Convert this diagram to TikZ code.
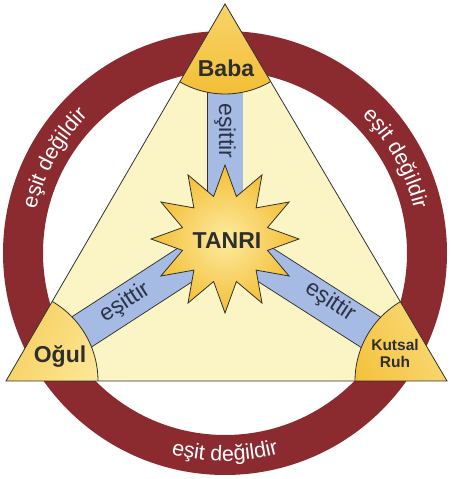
\documentclass[tikz,border=0pt]{standalone}
\usepackage{fontspec}
\setmainfont{Liberation Sans}
\usetikzlibrary{calc,decorations.text}
\definecolor{ringred}{HTML}{8C2B2F}
\definecolor{cream}{HTML}{FBF5C6}
\definecolor{barblue}{HTML}{A6BBE4}
\definecolor{outline}{HTML}{303030}
\definecolor{golddark}{HTML}{F3BE35}
\definecolor{goldlight}{HTML}{FDEBA0}
\definecolor{labelgray}{HTML}{2E2E2E}
\definecolor{eqtext}{HTML}{2D3347}
\tikzset{
  edge/.style={draw=outline, line width=0.8pt},
  bar/.style={draw=outline, line width=0.9pt, double=barblue, double distance=35pt},
  lab/.style={text=labelgray, font=\bfseries\fontsize{23}{25}\selectfont, inner sep=0pt},
  smalllab/.style={text=labelgray, font=\bfseries\fontsize{15.5}{17}\selectfont, inner sep=0pt, align=center},
  eq/.style={text=eqtext, font=\fontsize{23}{25}\selectfont, inner sep=0pt},
  ringtext/.style={decorate, decoration={text along path, text align=center,
     text format delimiters={|}{|},
     text={|\color{white}\fontsize{21.5}{24}\selectfont|eşit değildir}}}
}
\begin{document}
\begin{tikzpicture}[x=1pt,y=1pt]
\useasboundingbox (0,0) rectangle (450,479);
\coordinate (C) at (225,226);
\coordinate (A) at (225,475);
\coordinate (L) at (6,98);
\coordinate (R) at (447,98);
\coordinate (S) at (225,240);
% ring
\fill[ringred, even odd rule] (C) circle (222) (C) circle (182);
% triangle
\fill[cream] (A) -- (L) -- (R) -- cycle;
\begin{scope}
  \clip (A) -- (L) -- (R) -- cycle;
  \draw[bar] (S) -- (A);
  \draw[bar] (S) -- (L);
  \draw[bar] (S) -- (R);
  \shade[top color=goldlight, bottom color=golddark] (A) circle (90);
  \draw[edge] (A) circle (90);
  \shade[left color=golddark, right color=goldlight, shading angle=60] (L) circle (92);
  \draw[edge] (L) circle (92);
  \shade[left color=goldlight, right color=golddark, shading angle=-60] (R) circle (92);
  \draw[edge] (R) circle (92);
\end{scope}
\draw[edge] (A) -- (L) -- (R) -- cycle;
% star
\shadedraw[inner color=goldlight, outer color=golddark, draw=outline, line width=0.8pt]
  ($(S)+(90:74)$) \foreach \i in {0,...,11} { -- ($(S)+({90+30*\i}:74)$) -- ($(S)+({105+30*\i}:44)$) } -- cycle;
% labels
\node[lab, anchor=base] (baba) at (226,402) {Baba};
\node[lab, anchor=base] (ogul) at (60,116) {Oğul};
\node[smalllab] (kutsal) at (395,125.5) {Kutsal\\Ruh};
\node[lab, anchor=base] (tanri) at (227,230) {TANRI};
\node[eq, rotate=-90] (eq1) at (225,348) {eşittir};
\node[eq, rotate=33] (eq2) at (125,176) {eşittir};
\node[eq, rotate=-33] (eq3) at (330,177) {eşittir};
% ring texts
\path[ringtext] ($(C)+(176:194)$) arc[start angle=176, end angle=126, radius=194];
\path[ringtext] ($(C)+(54:194)$) arc[start angle=54, end angle=4, radius=194];
\path[ringtext] ($(C)+(240:208)$) arc[start angle=240, end angle=300, radius=208];
\end{tikzpicture}
\end{document}
